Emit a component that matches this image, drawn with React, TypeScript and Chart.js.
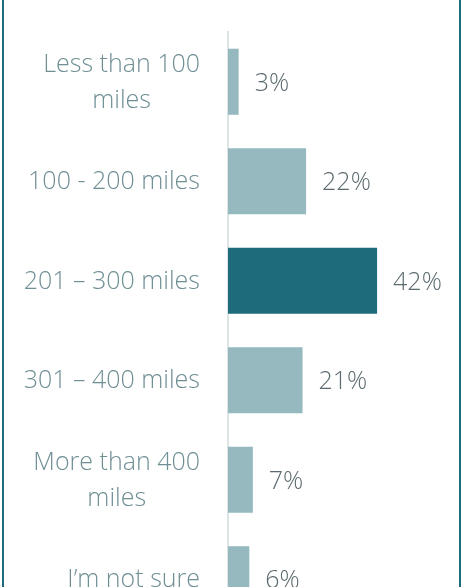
import React, { useEffect, useRef } from "react";
import { Chart, registerables } from "chart.js";

Chart.register(...registerables);

const categories: (string | string[])[] = [
  ["Less than 100", "miles"],
  "100 - 200 miles",
  "201 – 300 miles",
  "301 – 400 miles",
  ["More than 400", "miles"],
  "I’m not sure",
];
const shares: number[] = [3, 22, 42, 21, 7, 6];
const highlightIndex = 2;

const LIGHT = "#95b9bf";
const DARK = "#1e6b7b";
const LABEL_COLOR = "#6f8f95";
const VALUE_COLOR = "#5b6a6f";
const FONT = "'Open Sans', 'Noto Sans', sans-serif";
const FONT_SIZE = 25;
const LINE_HEIGHT = 36;

const textLabels = {
  id: "textLabels",
  afterDatasetsDraw(chart: any) {
    const ctx = chart.ctx;
    const meta = chart.getDatasetMeta(0);
    const yScale = chart.scales.y;
    ctx.save();
    ctx.font = `300 ${FONT_SIZE}px ${FONT}`;
    ctx.textBaseline = "middle";
    // category labels: block right-aligned, lines centered within the block
    const rightEdge = yScale.right - 28;
    categories.forEach((cat, i) => {
      const lines = Array.isArray(cat) ? cat : [cat];
      const widths = lines.map((l) => ctx.measureText(l).width);
      const blockW = Math.max(...widths);
      const cx = rightEdge - blockW / 2;
      const yc = yScale.getPixelForTick(i);
      const y0 = yc - ((lines.length - 1) * LINE_HEIGHT) / 2;
      ctx.fillStyle = LABEL_COLOR;
      ctx.textAlign = "center";
      lines.forEach((l, j) => ctx.fillText(l, cx, y0 + j * LINE_HEIGHT + 1));
    });
    // value labels
    ctx.fillStyle = VALUE_COLOR;
    ctx.textAlign = "left";
    meta.data.forEach((bar: any, i: number) => {
      ctx.fillText(`${shares[i]}%`, bar.x + 16, bar.y + 2);
    });
    ctx.restore();
  },
};

export default function App() {
  const ref = useRef<HTMLCanvasElement>(null);
  useEffect(() => {
    if (!ref.current) return;
    const chart = new Chart(ref.current, {
      type: "bar",
      data: {
        labels: categories,
        datasets: [
          {
            data: shares,
            backgroundColor: shares.map((_, i) => (i === highlightIndex ? DARK : LIGHT)),
            borderWidth: 0,
            barPercentage: 1,
            categoryPercentage: 0.664,
          },
        ],
      },
      options: {
        indexAxis: "y",
        responsive: false,
        animation: false,
        layout: { padding: { top: 32, right: 20, bottom: 21, left: 0 } },
        plugins: { legend: { display: false }, tooltip: { enabled: false } },
        scales: {
          x: { display: false, min: 0, max: 60 },
          y: {
            afterFit: (scale: any) => {
              scale.width = 228;
              scale.paddingTop = 0;
              scale.paddingBottom = 0;
            },
            grid: { display: false, drawTicks: false },
            border: { display: true, color: "#dde4e6", width: 2 },
            ticks: { display: false },
          },
        },
      },
      plugins: [textLabels],
    });
    return () => chart.destroy();
  }, []);

  return (
    <div
      style={{
        position: "fixed",
        left: 0,
        top: 0,
        width: 461,
        height: 587,
        overflow: "hidden",
        background: "#fff",
      }}
    >
      <canvas
        ref={ref}
        width={461}
        height={650}
        style={{ position: "absolute", left: 0, top: 0, width: 461, height: 650 }}
      />
      <div style={{ position: "absolute", left: 2, top: 0, width: 2, height: 587, background: DARK }} />
      <div style={{ position: "absolute", left: 459, top: 0, width: 2, height: 587, background: DARK }} />
    </div>
  );
}
